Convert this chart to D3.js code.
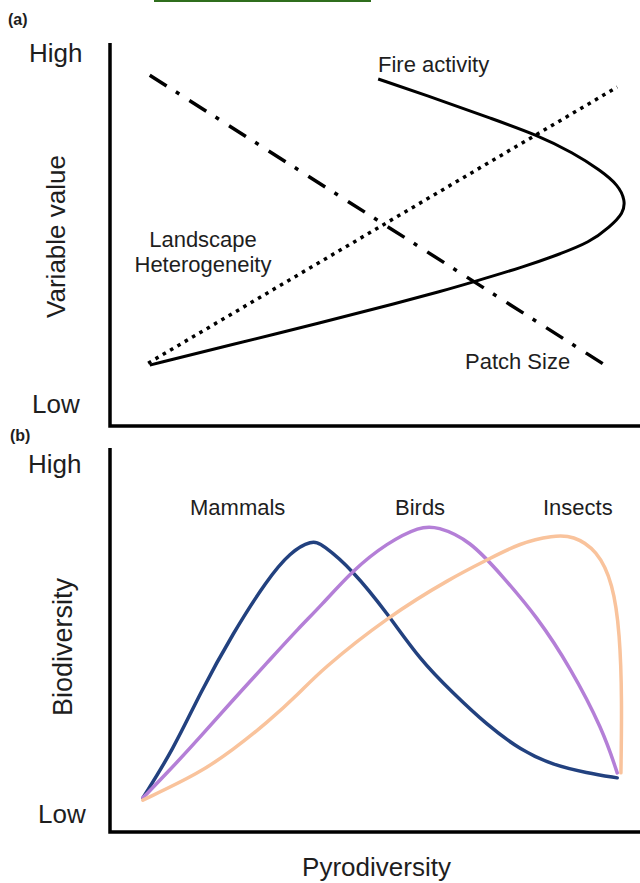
<!DOCTYPE html>
<html>
<head>
<meta charset="utf-8">
<script src="https://cdn.jsdelivr.net/npm/d3@7"></script>
<style>
  html, body { margin: 0; padding: 0; background: #fff; }
  svg { display: block; }
  text { font-family: "Liberation Sans", Arial, sans-serif; fill: #1e1e1e; }
</style>
</head>
<body>
<svg id="chart" width="640" height="883"></svg>
<script>
// ---------- Data (conceptual units 0..100) ----------
const yTickLabels = ["High", "Low"];
const panelLabels = ["(a)", "(b)"];
const axisTitlesA = ["Variable value"];
const axisTitlesB = ["Biodiversity", "Pyrodiversity"];

// Panel (a)
const fireX = [50.6, 62.3, 71.7, 80.6, 87.4, 92.5, 95.9, 97.2, 96.9, 94.3, 90.6, 84.3, 77.9, 68.5, 62.3, 54.7, 39.6, 22.6, 7.5];
const fireY = [90.6, 85.1, 80.4, 76.0, 71.3, 66.8, 62.9, 59.0, 55.6, 52.0, 48.0, 44.6, 41.5, 37.6, 35.1, 32.3, 26.9, 21.1, 15.9];
const patchX = [7.5, 93.4];
const patchY = [91.6, 15.9];
const heteroX = [7.2, 95.7];
const heteroY = [16.4, 88.5];

// Panel (b)
const mammalsX = [6.2, 11.9, 17.0, 23.2, 29.6, 34.0, 38.1, 40.0, 45.8, 52.3, 58.5, 64.7, 71.1, 77.4, 83.6, 90.0, 95.7];
const mammalsY = [8.9, 21.4, 36.2, 51.8, 65.6, 72.9, 76.0, 75.0, 68.2, 57.0, 44.8, 36.2, 27.9, 21.4, 17.4, 15.4, 14.1];
const birdsX = [6.2, 10.8, 17.0, 23.2, 29.6, 35.8, 39.6, 45.8, 52.3, 58.5, 61.7, 67.9, 74.2, 80.6, 86.8, 93.0, 95.7];
const birdsY = [8.9, 15.4, 24.7, 34.4, 44.0, 53.4, 58.6, 68.2, 75.3, 79.6, 79.6, 76.0, 66.4, 56.0, 43.0, 26.6, 15.4];
const insectsX = [6.2, 17.0, 23.2, 29.6, 35.8, 39.6, 52.3, 64.7, 71.1, 77.4, 83.6, 87.4, 91.9, 94.9, 96.2, 96.6, 96.4];
const insectsY = [8.3, 15.4, 21.4, 28.4, 36.2, 41.9, 56.0, 66.4, 70.8, 75.3, 77.2, 77.2, 73.4, 64.8, 51.8, 34.4, 15.4];

const seriesB = [
  { name: "Mammals", xs: mammalsX, ys: mammalsY, color: "#22417f" },
  { name: "Birds",   xs: birdsX,   ys: birdsY,   color: "#b47fd7" },
  { name: "Insects", xs: insectsX, ys: insectsY, color: "#f9c39c" }
];

// ---------- Drawing ----------
const svg = d3.select("#chart");
svg.append("rect").attr("width", 640).attr("height", 883).attr("fill", "#fff");

// thin green rule at the very top
svg.append("line").attr("x1", 154).attr("x2", 371).attr("y1", 1).attr("y2", 1)
  .attr("stroke", "#2f6e1d").attr("stroke-width", 2);

const xA = d3.scaleLinear().domain([0, 100]).range([110, 640]);
const yA = d3.scaleLinear().domain([0, 100]).range([426, 43]);
const xB = d3.scaleLinear().domain([0, 100]).range([110, 640]);
const yB = d3.scaleLinear().domain([0, 100]).range([832, 448]);

function axes(x, y) {
  svg.append("path")
    .attr("d", `M${x(0)},${y(100)}L${x(0)},${y(0)}L${x(100)},${y(0)}`)
    .attr("fill", "none").attr("stroke", "#000").attr("stroke-width", 3.5)
    .attr("stroke-linejoin", "miter");
}
axes(xA, yA);
axes(xB, yB);

const lineGen = (x, y) => d3.line().x(d => x(d[0])).y(d => y(d[1]));
const zip = (a, b) => a.map((v, i) => [v, b[i]]);

// Panel (a) curves
svg.append("path")
  .attr("d", lineGen(xA, yA).curve(d3.curveBasis)(zip(fireX, fireY)))
  .attr("fill", "none").attr("stroke", "#000").attr("stroke-width", 3);
svg.append("path")
  .attr("d", lineGen(xA, yA)(zip(heteroX, heteroY)))
  .attr("fill", "none").attr("stroke", "#000").attr("stroke-width", 3.5)
  .attr("stroke-dasharray", "3.5,5");
svg.append("path")
  .attr("d", lineGen(xA, yA)(zip(patchX, patchY)))
  .attr("fill", "none").attr("stroke", "#000").attr("stroke-width", 3.5)
  .attr("stroke-dasharray", "20,11,4,12");

// Panel (b) curves
seriesB.forEach(s => {
  svg.append("path")
    .attr("d", lineGen(xB, yB).curve(d3.curveBasis)(zip(s.xs, s.ys)))
    .attr("fill", "none").attr("stroke", s.color).attr("stroke-width", 3.5)
    .attr("stroke-linecap", "round");
});

// Panel letters
svg.append("text").attr("x", 8).attr("y", 25).attr("font-size", 16).attr("font-weight", "bold").text(panelLabels[0]);
svg.append("text").attr("x", 10).attr("y", 441).attr("font-size", 16).attr("font-weight", "bold").text(panelLabels[1]);

// High / Low labels
svg.append("text").attr("x", 29).attr("y", yA(100) + 19).attr("font-size", 26).text(yTickLabels[0]);
svg.append("text").attr("x", 32).attr("y", yA(0) - 13).attr("font-size", 26).text(yTickLabels[1]);
svg.append("text").attr("x", 28).attr("y", yB(100) + 25).attr("font-size", 26).text(yTickLabels[0]);
svg.append("text").attr("x", 38).attr("y", yB(0) - 9).attr("font-size", 26).text(yTickLabels[1]);

// Axis titles
svg.append("text").attr("transform", "translate(65,236.5) rotate(-90)")
  .attr("text-anchor", "middle").attr("font-size", 26).text(axisTitlesA[0]);
svg.append("text").attr("transform", "translate(72,647) rotate(-90)")
  .attr("text-anchor", "middle").attr("font-size", 27).text(axisTitlesB[0]);
svg.append("text").attr("x", 376.5).attr("y", 876)
  .attr("text-anchor", "middle").attr("font-size", 26).text(axisTitlesB[1]);

// Series labels panel (a)
svg.append("text").attr("x", 378).attr("y", 72).attr("font-size", 22).text("Fire activity");
svg.append("text").attr("x", 203).attr("y", 247).attr("text-anchor", "middle").attr("font-size", 22).text("Landscape");
svg.append("text").attr("x", 203).attr("y", 272).attr("text-anchor", "middle").attr("font-size", 22).text("Heterogeneity");
svg.append("text").attr("x", 465).attr("y", 369).attr("font-size", 22).text("Patch Size");

// Series labels panel (b)
const labelXB = [190, 395, 543];
seriesB.forEach((s, i) => {
  svg.append("text").attr("x", labelXB[i]).attr("y", 515).attr("font-size", 22).text(s.name);
});
</script>
</body>
</html>
